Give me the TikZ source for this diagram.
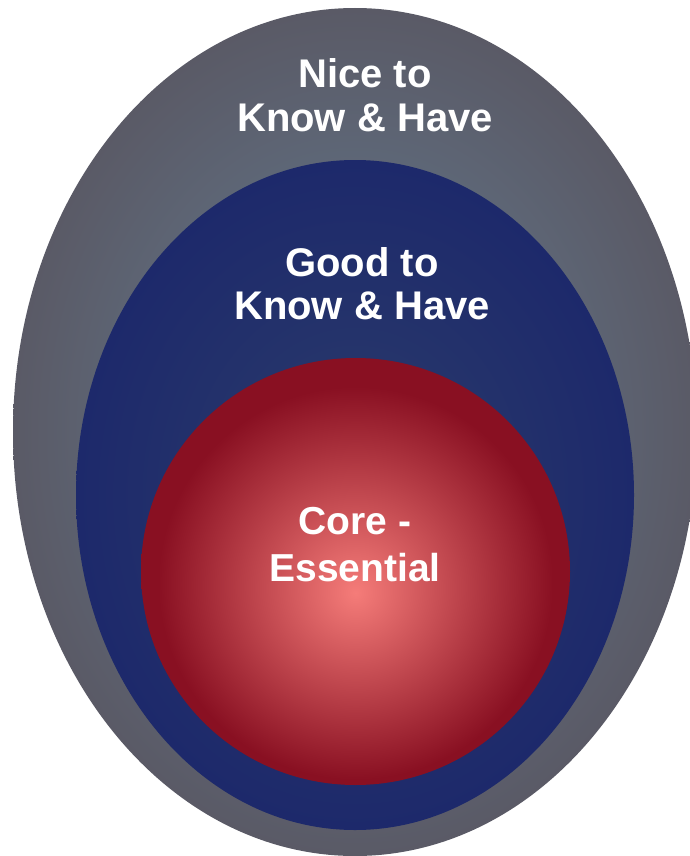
\documentclass[tikz,border=0pt]{standalone}
\usepackage{fontspec}
\setmainfont{Liberation Sans}
\usepackage{tikz}
\usetikzlibrary{shapes.geometric,positioning}
\usepackage{xcolor}

\definecolor{greyedge}{HTML}{5A5A66}
\definecolor{greymid}{HTML}{62768B}
\definecolor{navyedge}{HTML}{1D296B}
\definecolor{navymid}{HTML}{2B3C6B}
\definecolor{rededge}{HTML}{891022}
\definecolor{redmid}{HTML}{F57C79}

\pgfdeclareradialshading{greyglow}{\pgfpoint{0bp}{0bp}}{%
  color(0bp)=(greymid); color(9bp)=(greymid!80!greyedge); color(25bp)=(greyedge); color(50bp)=(greyedge)}
\pgfdeclareradialshading{navyglow}{\pgfpoint{0bp}{0bp}}{%
  color(0bp)=(navymid); color(25bp)=(navyedge); color(50bp)=(navyedge)}
\pgfdeclareradialshading{redglow}{\pgfpoint{0bp}{-2.5bp}}{%
  color(0bp)=(redmid); color(23bp)=(rededge); color(50bp)=(rededge)}

\begin{document}
\begin{tikzpicture}[
        x=1pt, y=-1pt,
        ring/.style={ellipse, inner sep=0pt},
        label/.style={text=white, align=center}
    ]
    \useasboundingbox (0,0) rectangle (689,856);
    
    % Rings
    \node[ring, shading=greyglow, minimum width=684pt, minimum height=848pt] (nice) at (355,432) {};
    \node[ring, shading=navyglow, minimum width=558pt, minimum height=670pt] (good) at (355,495) {};
    \node[ring, shading=redglow, minimum width=429pt, minimum height=427pt] (core) at (355.5,571.5) {};
    
    % Labels
    \node[label, font=\bfseries\fontsize{40}{44}\selectfont] (nicetext) at (365,95) {Nice to\\Know \& Have};
    \node[label, font=\bfseries\fontsize{40}{43}\selectfont] (goodtext) at (362,284) {Good to\\Know \& Have};
    \node[label, font=\bfseries\fontsize{39}{47}\selectfont] (coretext) at (355,545) {Core -\\Essential};
    
\end{tikzpicture}
\end{document}
